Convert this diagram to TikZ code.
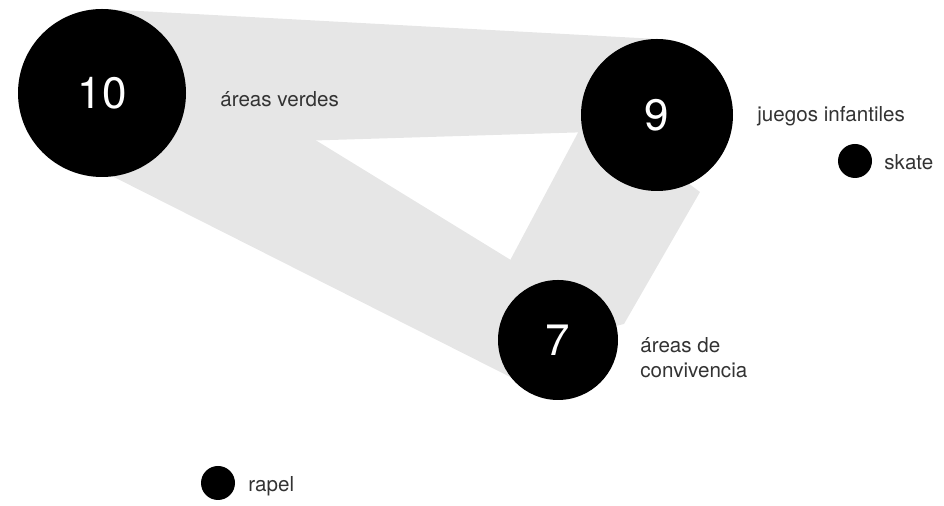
\documentclass[tikz,border=0pt]{standalone}
\usepackage{fontspec}
\setmainfont{TeX Gyre Heros}
\usetikzlibrary{calc, backgrounds}
\definecolor{BandGray}{HTML}{E6E6E6}
\definecolor{TagGray}{HTML}{333333}

\begin{document}
\begin{tikzpicture}[x=0.5pt, y=-0.5pt,
  bubble/.style={circle, fill=black, inner sep=0pt, outer sep=0pt, text=white,
                 font=\fontsize{22}{26}\selectfont},
  tag/.style={anchor=base west, inner sep=0pt, text=TagGray,
              font=\fontsize{10.3}{12.5}\selectfont, align=left}]
  \useasboundingbox (0,0) rectangle (944,506);
  % circles
  \node[bubble, minimum size=84pt] (n10) at (102,93) {10};
  \node[bubble, minimum size=76pt] (n9) at (657,115) {9};
  \node[bubble, minimum size=60pt] (n7) at (558,340) {7};
  \node[bubble, minimum size=17pt] (skate) at (855,161) {};
  \node[bubble, minimum size=17pt] (rapel) at (218,483) {};
  % labels
  \node[tag] (t10) at (220,107) {áreas verdes};
  \node[tag] (t9) at (757,122) {juegos infantiles};
  \node[tag] (tskate) at (884,170) {skate};
  \node[tag, anchor=west] (t7) at (640,358) {áreas de\\convivencia};
  \node[tag] (trapel) at (248,492) {rapel};
  % bands
  \begin{scope}[on background layer]
    \fill[BandGray] (n10.north) -- (n9.north) -- ($(n9.center)+(0,15)$)
      -- ($(n10.center)+(0,54)$) -- cycle;
    \fill[BandGray] (n10.north) -- ($(n7.center)+(0,-51)$) -- ($(n7.center)+(-28,47)$)
      -- ($(n10.center)+(0,78)$) -- cycle;
    \fill[BandGray] ($(n9.center)+(-67,-5)$) -- ($(n9.center)+(43,77)$)
      -- ($(n7.center)+(66,-16)$) -- (n7.center) -- ($(n7.center)+(-61,-55)$) -- cycle;
  \end{scope}
\end{tikzpicture}
\end{document}
